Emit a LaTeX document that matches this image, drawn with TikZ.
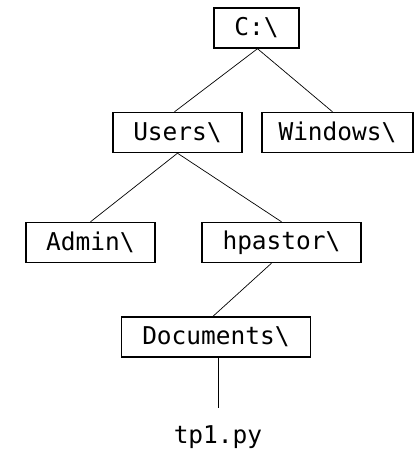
\documentclass[tikz,border=0pt]{standalone}
\usepackage{fontspec}
\setmonofont{DejaVu Sans Mono}
\begin{document}
\begin{tikzpicture}[x=1pt,y=-1pt,
  every node/.style={font=\ttfamily\fontsize{24.5}{28}\selectfont},
  dirbox/.style={draw,line width=1.4pt,minimum height=40pt,inner sep=0pt},
  branch/.style={line width=0.7pt}]
\useasboundingbox (0,0) rectangle (420,450);
% directory boxes
\node[dirbox,minimum width=85pt]  (root) at (256.5,28)  {C:\textbackslash};
\node[dirbox,minimum width=129pt] (users) at (177.5,132.5) {Users\textbackslash};
\node[dirbox,minimum width=151pt] (win)  at (337.5,132.5) {Windows\textbackslash};
\node[dirbox,minimum width=129pt] (admin) at (90.5,242.5) {Admin\textbackslash};
\node[dirbox,minimum width=159pt] (hp)   at (281.5,242.5) {hpastor\textbackslash};
\node[dirbox,minimum width=189pt] (docs) at (216,337) {Documents\textbackslash};
% file leaf
\node[anchor=north,inner xsep=0pt,inner ysep=17pt] (file) at (218,408) {tp1.py};
% tree branches
\draw[branch] ([xshift=1pt]root.south) -- ([xshift=-3pt]users.north);
\draw[branch] ([xshift=1pt]root.south) -- ([xshift=-5pt]win.north);
\draw[branch] (users.south) -- (admin.north);
\draw[branch] (users.south) -- (hp.north);
\draw[branch] ([xshift=-10pt]hp.south) -- ([xshift=-3pt]docs.north);
\draw[branch] ([xshift=2pt]docs.south) -- (file.north);
\end{tikzpicture}
\end{document}
